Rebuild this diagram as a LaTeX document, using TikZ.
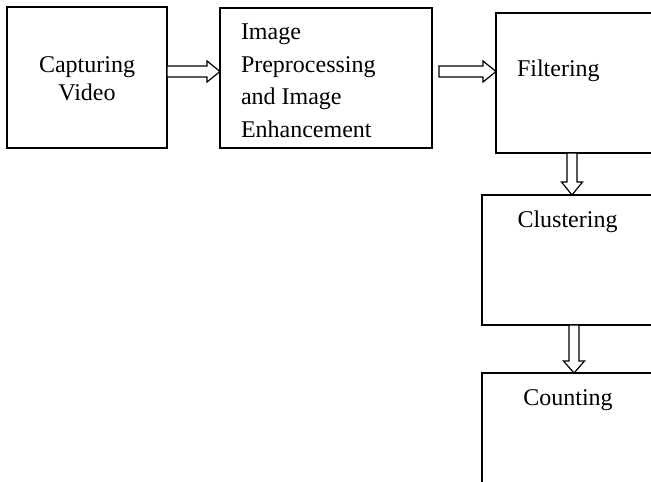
\documentclass[tikz,border=0pt]{standalone}
\usepackage{fontspec}
\setmainfont{Liberation Serif}
\begin{document}
\begin{tikzpicture}[x=1pt,y=-1pt,
  box/.style={draw=black,line width=1.3pt,inner sep=0pt,outer sep=0pt},
  lbl/.style={inner sep=0pt,outer sep=0pt,font=\fontsize{24}{32.5}\selectfont},
  blk/.style={draw=black,line width=1.2pt,fill=white,line join=miter}]
\useasboundingbox (0,0) rectangle (651,482);
\clip (0,0) rectangle (651,482);
% boxes
\node[box,minimum width=160pt,minimum height=141pt] (cap) at (87,77.5) {};
\node[box,minimum width=212pt,minimum height=140pt] (pre) at (326,78) {};
\node[box,minimum width=260pt,minimum height=140pt] (filt) at (626,83) {};
\node[box,minimum width=260pt,minimum height=130pt] (clus) at (612,260) {};
\node[box,minimum width=260pt,minimum height=150pt] (count) at (612,448) {};
% labels (base anchor = last line)
\node[lbl,font=\fontsize{24}{28}\selectfont,align=center,anchor=base] (capt) at (87,100) {Capturing\\Video};
\node[lbl,align=left,anchor=base west] (pret) at (241,137) {Image\\Preprocessing\\and Image\\Enhancement};
\node[lbl,anchor=base west] (filtt) at (517,76) {Filtering};
\node[lbl,anchor=base] (clust) at (567.5,227) {Clustering};
\node[lbl,anchor=base] (countt) at (568,405) {Counting};
% arrow anchor points
\coordinate (a1s) at (cap.east |- 0,71.5);
\coordinate (a1e) at (pre.west |- 0,71.5);
\coordinate (a2s) at (439,71.5);
\coordinate (a2e) at (filt.west |- 0,71.5);
\coordinate (d1s) at (572,0 |- filt.south);
\coordinate (d1e) at (572,0 |- clus.north);
\coordinate (d2s) at (574,0 |- clus.south);
\coordinate (d2e) at (574,0 |- count.north);
% block arrows
\draw[blk] (a1s) ++(0,-5.5) -- ++(40,0) -- ++(0,-5) -- (a1e) -- ++(-13,10.5) -- ++(0,-5) -- ++(-40,0) -- cycle;
\draw[blk] (a2s) ++(0,-5.5) -- ++(44,0) -- ++(0,-5) -- (a2e) -- ++(-13,10.5) -- ++(0,-5) -- ++(-44,0) -- cycle;
\draw[blk] (d1s) ++(-5,0) -- ++(0,29) -- ++(-5.5,0) -- (d1e) -- ++(10.5,-13) -- ++(-5.5,0) -- ++(0,-29) -- cycle;
\draw[blk] (d2s) ++(-5,0) -- ++(0,36) -- ++(-5.5,0) -- (d2e) -- ++(10.5,-12) -- ++(-5.5,0) -- ++(0,-36) -- cycle;
\end{tikzpicture}
\end{document}
